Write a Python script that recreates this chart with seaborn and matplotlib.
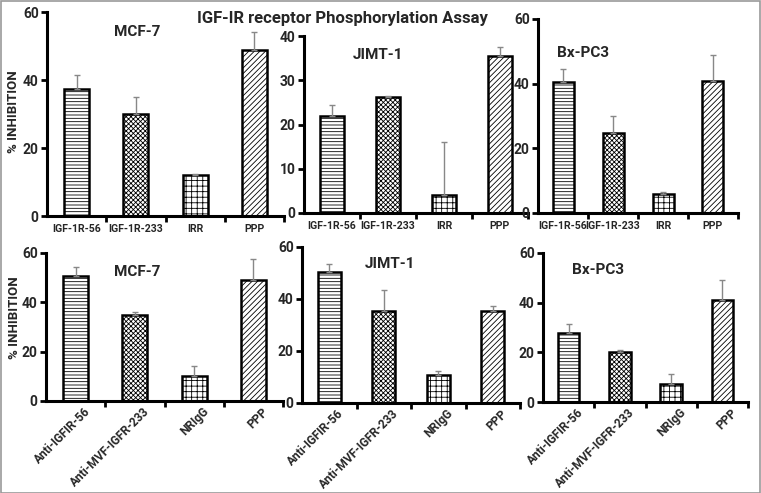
import numpy as np
import pandas as pd
import matplotlib
matplotlib.use("Agg")
import matplotlib.pyplot as plt
import matplotlib.transforms as mtransforms
import seaborn as sns
from matplotlib.patches import Rectangle

sns.set_theme(style="white")
plt.rcParams['font.family'] = ['Roboto', 'DejaVu Sans']
plt.rcParams['hatch.linewidth'] = 0.6

# ---- data ----
top_labels = ['IGF-1R-56', 'IGF-1R-233', 'IRR', 'PPP']
bottom_labels = ['Anti-IGFIR-56', 'Anti-MVF-IGFR-233', 'NRIgG', 'PPP']

mcf7_top = [37.5, 30.0, 12.0, 48.8]
mcf7_top_err = [4.0, 5.0, 0.5, 5.3]
jimt_top = [22.0, 26.3, 4.0, 35.5]
jimt_top_err = [2.3, 0.2, 12.0, 2.0]
bxpc_top = [40.5, 24.8, 6.0, 40.8]
bxpc_top_err = [4.0, 5.2, 0.5, 8.2]

mcf7_bot = [50.8, 34.8, 10.0, 49.0]
mcf7_bot_err = [3.7, 1.2, 4.0, 8.5]
jimt_bot = [50.5, 35.5, 10.8, 35.5]
jimt_bot_err = [3.0, 7.8, 1.7, 2.0]
bxpc_bot = [27.8, 20.0, 7.2, 41.0]
bxpc_bot_err = [3.7, 1.0, 4.1, 8.3]

hatches = ['-----', 'xxxxxxx', '+++', '//////']
hatch_cols = ['#555555', '#777777', '#111111', '#333333']

W, H = 761, 493
fig = plt.figure(figsize=(W / 100, H / 100), dpi=100)


def px_axes(x0, x1, y_top, y_bot):
    return fig.add_axes([x0 / W, 1 - y_bot / H, (x1 - x0) / W, (y_bot - y_top) / H])


def panel(ax, labels, vals, errs, title, tx, ty, ymax, ystep, rotate):
    df = pd.DataFrame({'group': labels, 'value': vals})
    sns.barplot(data=df, x='group', y='value', ax=ax, width=0.42,
                color='white', edgecolor='black', linewidth=1.8, errorbar=None)
    for p, h, c in zip(ax.patches, hatches, hatch_cols):
        p.set_hatch(h)
        if hasattr(p, 'set_hatch_color'):
            p.set_hatch_color(c)
    ax.errorbar(range(len(vals)), vals, yerr=[np.zeros(len(errs)), errs],
                fmt='none', ecolor='#888888', elinewidth=1.0, capsize=2.5,
                capthick=1.0, zorder=1)
    ax.set_xlim(-0.5, len(vals) - 0.5)
    ax.set_ylim(0, ymax)
    ax.set_yticks(np.arange(0, ymax + 0.1, ystep))
    ax.set_xlabel('')
    ax.set_ylabel('')
    for s in ['top', 'right']:
        ax.spines[s].set_visible(False)
    for s in ['left', 'bottom']:
        ax.spines[s].set_linewidth(2.2)
        ax.spines[s].set_color('black')
    ax.set_xticks(np.arange(len(vals)))
    ax.set_xticks(np.arange(len(vals)) + 0.5, minor=True)
    ax.tick_params(axis='x', which='major', length=0, pad=6)
    ax.tick_params(axis='x', which='minor', length=4, width=2, color='black',
                   direction='out', bottom=True)
    ax.tick_params(axis='y', length=4, width=2, color='black', direction='out',
                   left=True, labelsize=10, pad=2)
    for t in ax.get_yticklabels():
        t.set_fontweight('bold')
    if rotate:
        ax.tick_params(axis='x', which='major', pad=3)
        ax.set_xticklabels(labels, rotation=45, ha='right', rotation_mode='anchor',
                           fontsize=8.6, fontweight='bold')
        shift = mtransforms.ScaledTranslation(8 / 100, 0, fig.dpi_scale_trans)
        for t in ax.get_xticklabels():
            t.set_transform(t.get_transform() + shift)
    else:
        ax.set_xticklabels(labels, fontsize=7.6, fontweight='bold')
    ax.patch.set_alpha(0)
    fig.text(tx / W, 1 - ty / H, title, ha='center', va='center',
             fontsize=11, fontweight='bold')


ax1 = px_axes(47, 284, 12, 216)
panel(ax1, top_labels, mcf7_top, mcf7_top_err, 'MCF-7', 137, 32, 60, 20, False)
ax2 = px_axes(304, 528, 36, 213)
panel(ax2, top_labels, jimt_top, jimt_top_err, 'JIMT-1', 378, 55, 40, 10, False)
ax3 = px_axes(538, 738, 19, 213)
panel(ax3, top_labels, bxpc_top, bxpc_top_err, 'Bx-PC3', 583, 53, 60, 20, False)

ax4 = px_axes(46, 283, 253, 401)
panel(ax4, bottom_labels, mcf7_bot, mcf7_bot_err, 'MCF-7', 137, 272, 60, 20, True)
ax5 = px_axes(302, 520, 247, 403)
panel(ax5, bottom_labels, jimt_bot, jimt_bot_err, 'JIMT-1', 390, 264, 60, 20, True)
ax6 = px_axes(543, 748, 253, 402)
panel(ax6, bottom_labels, bxpc_bot, bxpc_bot_err, 'Bx-PC3', 598, 270, 60, 20, True)

fig.text(14 / W, 1 - 112 / H, '% INHIBITION', rotation=90, ha='center', va='center',
         fontsize=9.5, fontweight='bold')
fig.text(15 / W, 1 - 318 / H, '% INHIBITION', rotation=90, ha='center', va='center',
         fontsize=9.5, fontweight='bold')
fig.text(342 / W, 1 - 18 / H, 'IGF-IR receptor Phosphorylation Assay', ha='center',
         va='center', fontsize=12, fontweight='bold')

fig.patches.append(Rectangle((0.5 / W, 0.5 / H), 1 - 1.5 / W, 1 - 1.5 / H,
                             transform=fig.transFigure, fill=False,
                             edgecolor='#999999', linewidth=1.2))

fig.savefig('out.png', dpi=100)
